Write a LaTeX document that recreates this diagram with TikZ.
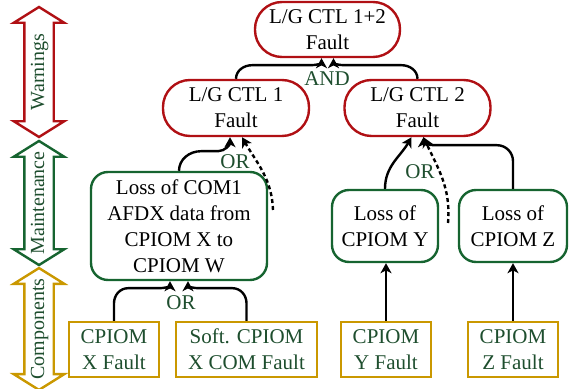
\documentclass[tikz,border=0pt]{standalone}
\usepackage{fontspec}
\setmainfont{Liberation Serif}
\usetikzlibrary{shapes.arrows,arrows.meta,calc}
\definecolor{warnred}{RGB}{176,16,20}
\definecolor{maintgreen}{RGB}{22,100,48}
\definecolor{compgold}{RGB}{202,152,0}
\definecolor{labgreen}{RGB}{30,78,46}
\begin{document}
\begin{tikzpicture}[x=0.5pt,y=-0.5pt,
  font=\fontsize{10.5}{13}\selectfont,
  arr/.style={-{Stealth[length=5pt,width=5.5pt,inset=1.4pt]}, line width=1.2pt},
  dashedarr/.style={arr, dash pattern=on 2pt off 1.5pt},
  warnbox/.style={draw=warnred, line width=1.2pt, rounded corners=13.5pt, align=center,
    minimum width=73pt, minimum height=28pt, inner sep=1pt},
  maintbox/.style={draw=maintgreen, line width=1.2pt, rounded corners=8.5pt, align=center,
    inner sep=1pt},
  compbox/.style={draw=compgold, line width=1.2pt, align=center, text=labgreen,
    minimum width=45pt, minimum height=27.5pt, inner sep=1pt},
  lab/.style={text=labgreen, inner sep=0pt},
  lvl/.style={draw=#1, line width=1.2pt, shape=double arrow, double arrow head extend=5.25pt,
    double arrow tip angle=116, minimum width=24pt, text height=7pt, text depth=2pt,
    inner xsep=0pt, inner ysep=2.25pt, rotate=90, text=labgreen,
    font=\fontsize{10}{12}\selectfont}
]
\useasboundingbox (0,0) rectangle (573,389);

% level markers on the left
\node[lvl=warnred, minimum height=65pt] (warn) at (39,72) {Warnings};
\node[lvl=maintgreen, minimum height=60pt] (maint) at (39,203) {Maintenance};
\node[lvl=compgold, minimum height=59pt] (comp) at (39,329) {Components};

% warnings
\node[warnbox, minimum width=72.5pt, minimum height=27.5pt] (top) at (327.5,29.5) {L/G CTL 1+2\\Fault};
\node[warnbox] (ctl1) at (236,108) {L/G CTL 1\\Fault};
\node[warnbox] (ctl2) at (417.5,108) {L/G CTL 2\\Fault};

% maintenance messages
\node[maintbox, minimum width=88pt, minimum height=54pt] (com1) at (179,226)
  {Loss of COM1\\AFDX data from\\CPIOM X to\\CPIOM W};
\node[maintbox, minimum width=53pt, minimum height=36pt] (lossy) at (385,226) {Loss of\\CPIOM Y};
\node[maintbox, minimum width=54pt, minimum height=36pt] (lossz) at (513,226) {Loss of\\CPIOM Z};

% components
\node[compbox] (cx) at (114,349.5) {CPIOM\\X Fault};
\node[compbox, minimum width=70.5pt] (soft) at (246.5,349.5) {Soft. CPIOM\\X COM Fault};
\node[compbox] (cy) at (386,349.5) {CPIOM\\Y Fault};
\node[compbox] (cz) at (513,349.5) {CPIOM\\Z Fault};

% gate labels
\node[lab] (andlab) at (327,79) {AND};
\node[lab] (or1) at (235,162) {OR};
\node[lab] (or2) at (420,172) {OR};
\node[lab] (or3) at (181,303) {OR};

% free ends of the dashed links
\coordinate (dsrc1) at (273,210);
\coordinate (dsrc2) at (448,223);

% warnings -> combined warning
\draw[arr] let \p1=(ctl1.north), \p2=([xshift=-3pt]top.south) in
  (\p1) to[out=90,in=180] (\x1+8pt,\y2-3.5pt) -- (\x2-5pt,\y2-3.5pt)
  to[out=0,in=-90] (\p2);
\draw[arr] let \p1=(ctl2.north), \p2=([xshift=3pt]top.south) in
  (\p1) to[out=90,in=0] (\x1-8pt,\y2-3.5pt) -- (\x2+5pt,\y2-3.5pt)
  to[out=180,in=-90] (\p2);

% maintenance -> warnings
\draw[arr] let \p1=(com1.north), \p2=([xshift=-3pt]ctl1.south) in
  (\p1) to[out=90,in=180] (\x1+11pt,\y2-7pt) -- (\x2-6pt,\y2-7pt)
  to[out=0,in=-90] (\p2);
\draw[dashedarr] (dsrc1) to[out=92,in=-60] ([xshift=3pt]ctl1.south);

\draw[arr] (lossy.north) to[out=90,in=-120] ([xshift=-3pt]ctl2.south);
\draw[arr] let \p1=(lossz.north), \p2=([xshift=3pt]ctl2.south) in
  (\p1) -- (\x1,\y2-12pt) to[out=90,in=0] (\x1-8pt,\y2-4pt) -- (\x2+5pt,\y2-4pt)
  to[out=180,in=-90] (\p2);
\draw[dashedarr] (dsrc2) to[out=85,in=-65] ([xshift=3pt]ctl2.south);

% components -> maintenance
\draw[arr] let \p1=(cx.north), \p2=([xshift=-4.5pt]com1.south) in
  (\p1) -- (\x1,\y2-11pt) to[out=90,in=180] (\x1+7pt,\y2-3.5pt) -- (\x2-5pt,\y2-3.5pt)
  to[out=0,in=-90] (\p2);
\draw[arr] let \p1=(soft.north), \p2=([xshift=4.5pt]com1.south) in
  (\p1) -- (\x1,\y2-11pt) to[out=90,in=0] (\x1-7pt,\y2-3.5pt) -- (\x2+5pt,\y2-3.5pt)
  to[out=180,in=-90] (\p2);
\draw[arr] (cy.north) -- (cy.north |- lossy.south);
\draw[arr] (cz.north) -- (cz.north |- lossz.south);
\end{tikzpicture}
\end{document}
